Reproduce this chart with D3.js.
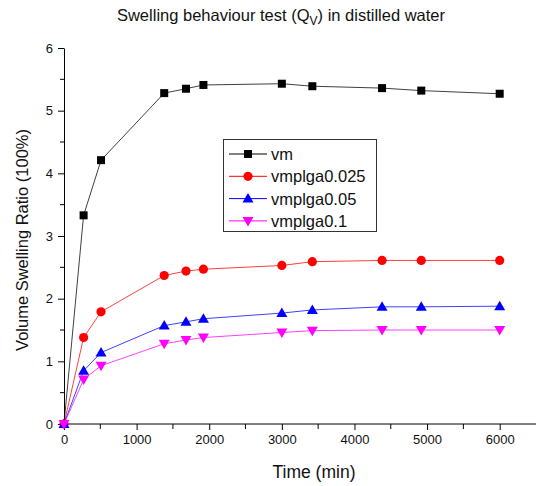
<!DOCTYPE html>
<html>
<head>
<meta charset="utf-8">
<script src="https://cdn.jsdelivr.net/npm/d3@7"></script>
<style>
  html, body { margin: 0; padding: 0; background: #fff; }
  svg { display: block; font-family: "Liberation Sans", Arial, sans-serif; }
</style>
</head>
<body>
<div id="chart"></div>
<script>
// time points (min) and swelling ratios
const times = [0, 270, 510, 1380, 1680, 1920, 3000, 3420, 4380, 4920, 6000];
const vm = [0, 3.33, 4.21, 5.28, 5.35, 5.41, 5.43, 5.39, 5.36, 5.32, 5.27];
const vmplga0025 = [0, 1.38, 1.79, 2.37, 2.44, 2.47, 2.53, 2.59, 2.61, 2.61, 2.61];
const vmplga005 = [0, 0.85, 1.14, 1.57, 1.63, 1.68, 1.77, 1.82, 1.87, 1.87, 1.88];
const vmplga01 = [0, 0.71, 0.93, 1.28, 1.34, 1.38, 1.46, 1.49, 1.50, 1.50, 1.50];
const xTicks = [0, 1000, 2000, 3000, 4000, 5000, 6000];
const yTicks = [0, 1, 2, 3, 4, 5, 6];

const series = [
  { name: 'vm', values: vm, color: '#000000', marker: 'square' },
  { name: 'vmplga0.025', values: vmplga0025, color: '#ff0000', marker: 'circle' },
  { name: 'vmplga0.05', values: vmplga005, color: '#0000ff', marker: 'up' },
  { name: 'vmplga0.1', values: vmplga01, color: '#ff00ff', marker: 'down' }
];

const width = 536, height = 486;
const svg = d3.select('#chart').append('svg')
  .attr('width', width).attr('height', height);

const x = d3.scaleLinear().domain([0, 6500]).range([64, 536]);
const y = d3.scaleLinear().domain([0, 6]).range([424, 48]);

// title
const title = svg.append('text')
  .attr('x', 281).attr('y', 21)
  .attr('text-anchor', 'middle')
  .attr('font-size', 16.5)
  .attr('fill', '#111');
title.append('tspan').text('Swelling behaviour test (Q');
title.append('tspan').attr('font-size', 12).attr('dy', 4).text('V');
title.append('tspan').attr('dy', -4).text(') in distilled water');

// axes
const xMinor = d3.range(500, 6500, 1000);
const yMinor = d3.range(0.5, 6, 1);

const xAxis = svg.append('g').attr('transform', `translate(0,${y(0)})`);
xAxis.call(d3.axisBottom(x).tickValues(xTicks).tickFormat(d3.format('d'))
    .tickSize(6).tickSizeOuter(0).tickPadding(5))
  .attr('font-size', 13).attr('font-family', null);
xAxis.selectAll('.tick text').attr('fill', '#111');
xAxis.selectAll('.domain').attr('d', `M${x(0)},0H${width}`);
xAxis.selectAll('.minor').data(xMinor).enter().append('line')
  .attr('x1', d => x(d)).attr('x2', d => x(d))
  .attr('y1', 0).attr('y2', 5).attr('stroke', '#000');

const yAxis = svg.append('g').attr('transform', `translate(${x(0)},0)`);
yAxis.call(d3.axisLeft(y).tickValues(yTicks).tickFormat(d3.format('d'))
    .tickSize(6).tickSizeOuter(0).tickPadding(5))
  .attr('font-size', 13).attr('font-family', null);
yAxis.selectAll('.tick text').attr('fill', '#111');
yAxis.selectAll('.minor').data(yMinor).enter().append('line')
  .attr('y1', d => y(d)).attr('y2', d => y(d))
  .attr('x1', 0).attr('x2', -4).attr('stroke', '#000');

// axis labels
svg.append('text')
  .attr('x', 314).attr('y', 478)
  .attr('text-anchor', 'middle')
  .attr('font-size', 17.5).attr('fill', '#111')
  .text('Time (min)');

svg.append('text')
  .attr('transform', `translate(28,240) rotate(-90)`)
  .attr('text-anchor', 'middle')
  .attr('font-size', 16.5).attr('fill', '#111')
  .text('Volume Swelling Ratio (100%)');

// markers
function drawMarker(g, type, color, cx, cy) {
  if (type === 'square') {
    g.append('rect').attr('x', cx - 4).attr('y', cy - 4)
      .attr('width', 8).attr('height', 8).attr('fill', color);
  } else if (type === 'circle') {
    g.append('circle').attr('cx', cx).attr('cy', cy).attr('r', 4.6).attr('fill', color);
  } else if (type === 'up') {
    g.append('path').attr('d', `M${cx},${cy - 5.5}L${cx + 5.5},${cy + 4}L${cx - 5.5},${cy + 4}Z`)
      .attr('fill', color);
  } else {
    g.append('path').attr('d', `M${cx},${cy + 5.5}L${cx + 5.5},${cy - 4}L${cx - 5.5},${cy - 4}Z`)
      .attr('fill', color);
  }
}

const line = d3.line().x(d => x(d[0])).y(d => y(d[1]));

series.forEach(s => {
  const pts = times.map((t, i) => [t, s.values[i]]);
  const g = svg.append('g');
  g.append('path').attr('d', line(pts))
    .attr('fill', 'none').attr('stroke', s.color).attr('stroke-width', 1)
    .attr('stroke-opacity', 0.75);
  pts.forEach(p => drawMarker(g, s.marker, s.color, x(p[0]), y(p[1])));
});

// legend
const legend = svg.append('g');
legend.append('rect')
  .attr('x', 223.5).attr('y', 139.5).attr('width', 153).attr('height', 92)
  .attr('fill', '#fff').attr('stroke', '#333').attr('stroke-width', 1);
series.forEach((s, i) => {
  const ly = 154 + i * 22.3;
  legend.append('line').attr('x1', 229).attr('x2', 267)
    .attr('y1', ly).attr('y2', ly).attr('stroke', s.color).attr('stroke-width', 1);
  drawMarker(legend, s.marker, s.color, 248, ly);
  legend.append('text').attr('x', 271).attr('y', ly + 6)
    .attr('font-size', 16.5).attr('fill', '#111').text(s.name);
});
</script>
</body>
</html>
